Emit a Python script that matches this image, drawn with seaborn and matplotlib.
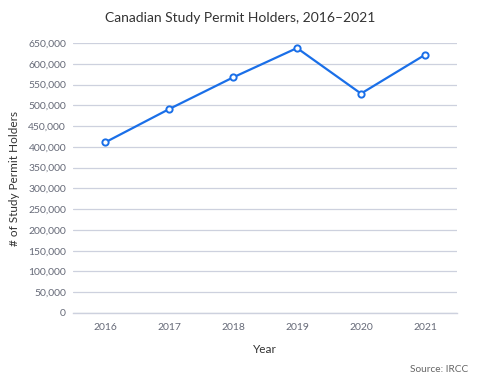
import pandas as pd
import matplotlib
matplotlib.use("Agg")
import matplotlib.pyplot as plt
import seaborn as sns
from matplotlib.ticker import FuncFormatter, MultipleLocator

years = ["2016", "2017", "2018", "2019", "2020", "2021"]
holders = [410570, 490775, 567065, 637860, 528190, 621565]

df = pd.DataFrame({"Year": years, "Holders": holders})

sns.set_theme(style="white")
plt.rcParams["font.family"] = ["Lato", "DejaVu Sans"]

fig = plt.figure(figsize=(4.81, 3.80), dpi=100)
ax = fig.add_axes([73 / 481, 1 - 313 / 380, (457 - 73) / 481, (313 - 43) / 380])

blue = "#1a6fe8"
sns.lineplot(data=df, x="Year", y="Holders", ax=ax, color=blue, linewidth=1.6,
             marker="o", markersize=4.5, markerfacecolor="white",
             markeredgecolor=blue, markeredgewidth=1.4)

ax.set_xlim(-0.5, 5.5)
ax.set_ylim(0, 650000)
ax.yaxis.set_major_locator(MultipleLocator(50000))
ax.yaxis.set_major_formatter(FuncFormatter(lambda v, p: f"{int(v):,}"))
ax.grid(axis="y", color="#cdd1de", linewidth=0.9)
ax.set_axisbelow(True)
for s in ["top", "right", "left"]:
    ax.spines[s].set_visible(False)
ax.spines["bottom"].set_color("#cdd1de")
ax.spines["bottom"].set_linewidth(1.0)
ax.tick_params(axis="both", length=0, labelsize=7.5, labelcolor="#666a78")
ax.tick_params(axis="x", pad=7)
ax.tick_params(axis="y", pad=5)

ax.set_xlabel("Year", fontsize=8.5, color="#333333", labelpad=9)
ax.set_ylabel("# of Study Permit Holders", fontsize=8.5, color="#333333", labelpad=6)
fig.text(0.5, 1 - 18 / 380, "Canadian Study Permit Holders, 2016\u20132021",
         ha="center", va="center", fontsize=10, color="#333333")
fig.text(468 / 481, 1 - 370 / 380, "Source: IRCC", ha="right", va="center",
         fontsize=7.3, color="#666666")

fig.savefig("out.png", dpi=100)
